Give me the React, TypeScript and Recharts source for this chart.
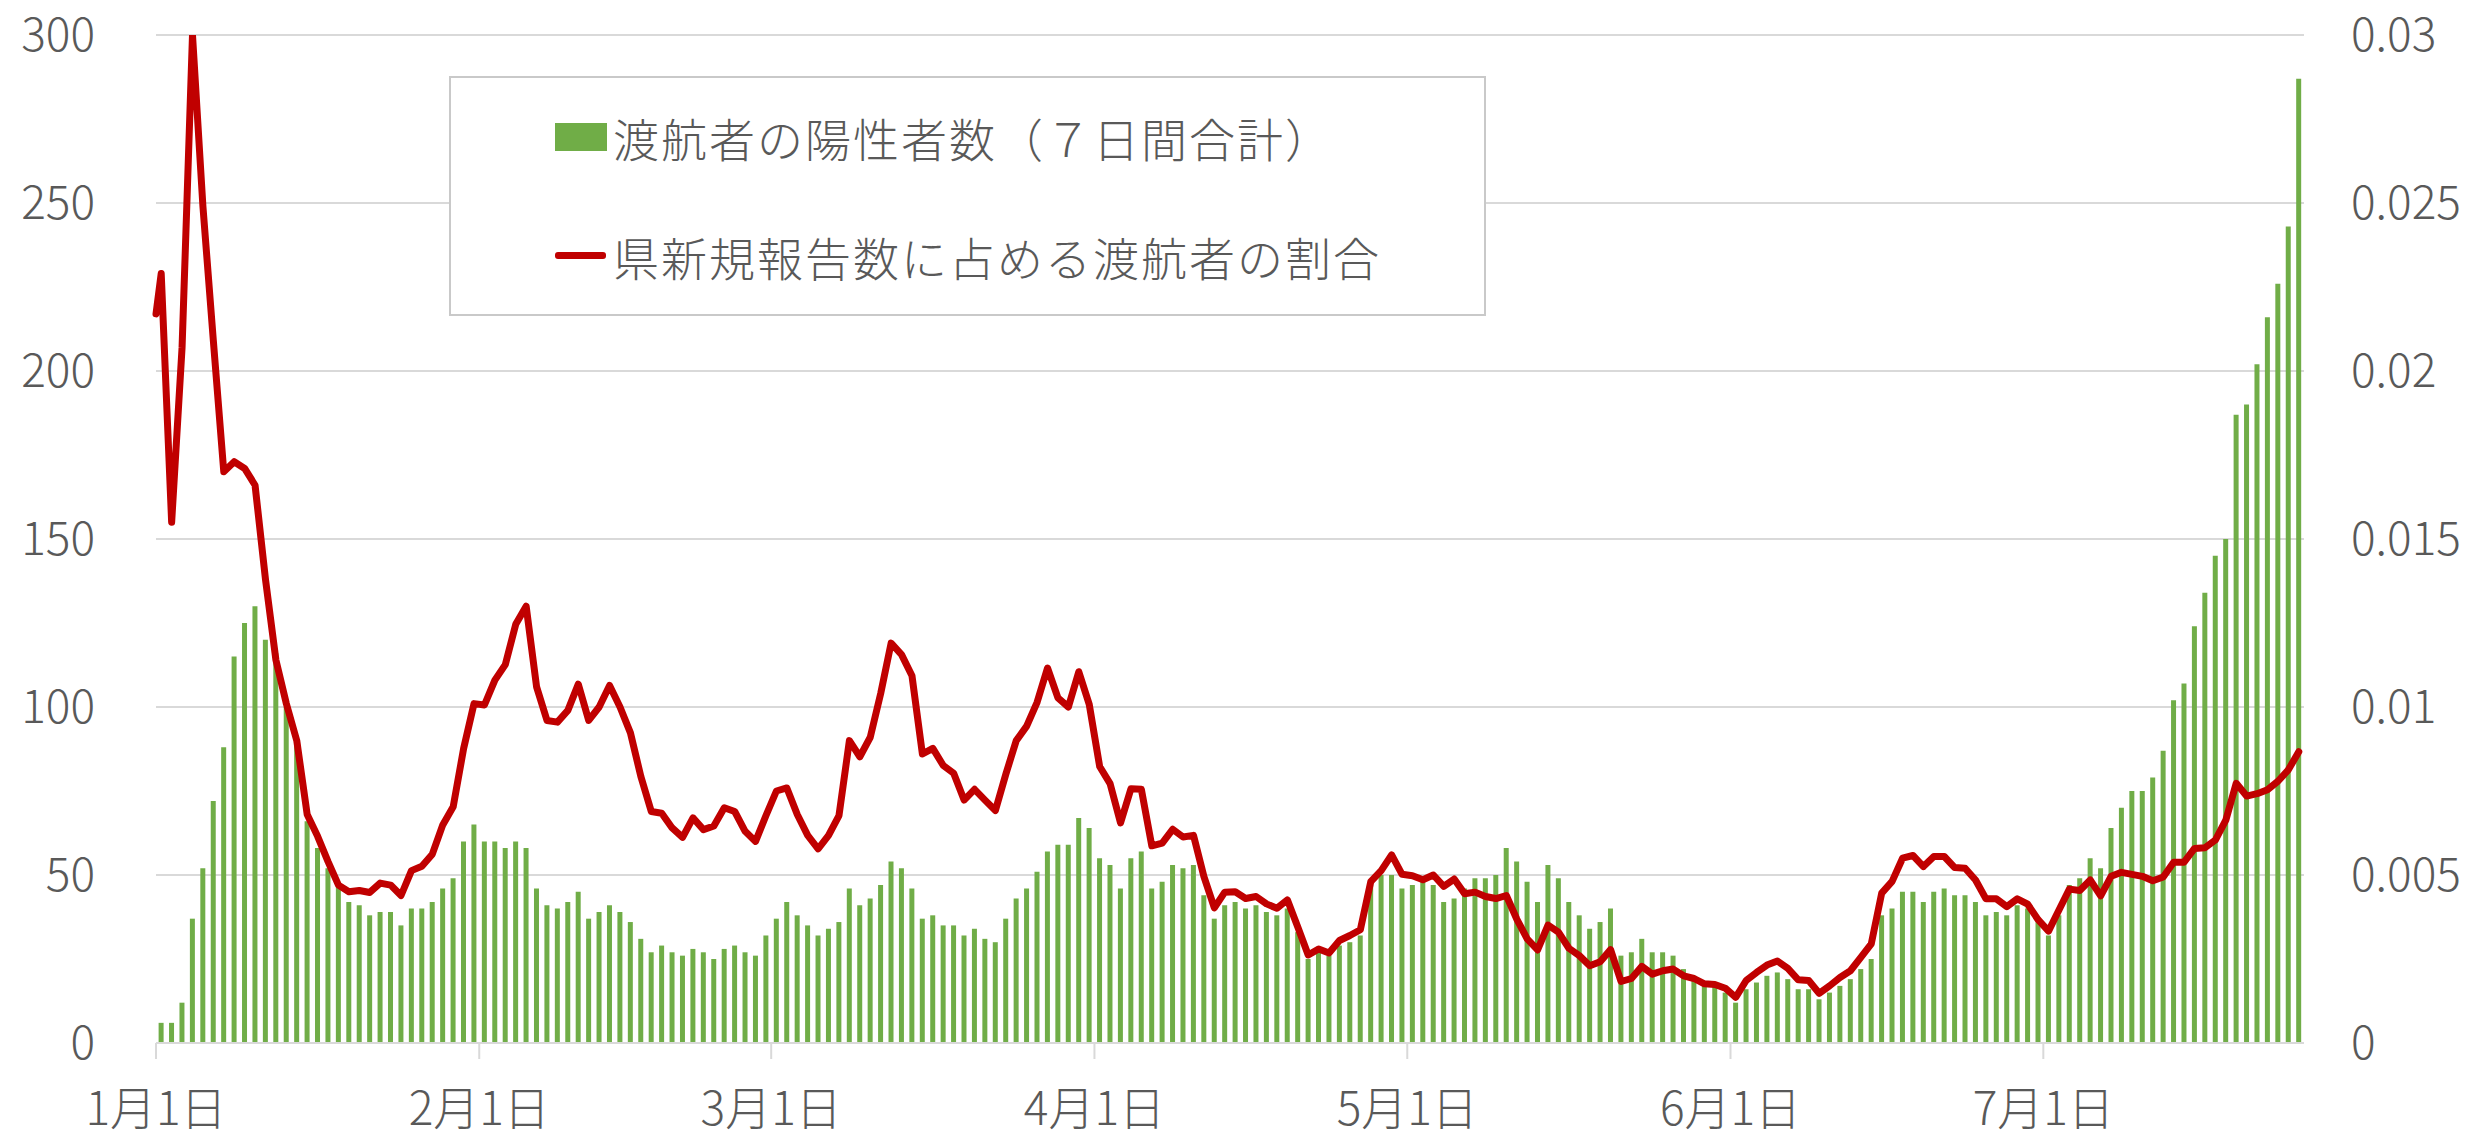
import React from "react";
import { ComposedChart, Bar, Line, XAxis, YAxis, CartesianGrid } from "recharts";

// x axis: month start labels and their day offsets from 1月1日
const monthLabels = ["1月1日", "2月1日", "3月1日", "4月1日", "5月1日", "6月1日", "7月1日"];
const monthStarts = [0, 31, 59, 90, 120, 151, 181];

// 渡航者の陽性者数（７日間合計）, one value per day
const casesJan = [6, 6, 12, 37, 52, 72, 88, 115, 125, 130, 120, 116, 100, 89, 66, 58, 52, 47, 42, 41, 38, 39, 39, 35, 40, 40, 42, 46, 49, 60, 65];
const casesFeb = [60, 60, 58, 60, 58, 46, 41, 40, 42, 45, 37, 39, 41, 39, 36, 31, 27, 29, 27, 26, 28, 27, 25, 28, 29, 27, 26, 32];
const casesMar = [37, 42, 38, 35, 32, 34, 36, 46, 41, 43, 47, 54, 52, 46, 37, 38, 35, 35, 32, 34, 31, 30, 37, 43, 46, 51, 57, 59, 59, 67, 64];
const casesApr = [55, 53, 46, 55, 57, 46, 48, 53, 52, 53, 44, 37, 41, 42, 40, 41, 39, 38, 40, 33, 25, 27, 26, 29, 30, 32, 47, 50, 50, 46];
const casesMay = [47, 48, 47, 42, 43, 46, 49, 49, 50, 58, 54, 48, 42, 53, 49, 42, 38, 34, 36, 40, 26, 27, 31, 27, 27, 26, 22, 20, 18, 17, 15];
const casesJun = [12, 16, 18, 20, 21, 19, 16, 16, 13, 15, 17, 19, 22, 25, 38, 40, 45, 45, 42, 45, 46, 44, 44, 42, 38, 39, 38, 41, 40, 36];
const casesJul = [32, 38, 47, 49, 55, 52, 64, 70, 75, 75, 79, 87, 102, 107, 124, 134, 145, 150, 187, 190, 202, 216, 226, 243, 287];

// 県新規報告数に占める渡航者の割合, one value per day
const ratioLead = 0.0217; // where the line enters at the left edge
const ratioJan = [0.0229, 0.0155, 0.0207, 0.03, 0.0249, 0.0209, 0.017, 0.0173, 0.0171, 0.0166, 0.0138, 0.0114, 0.0101, 0.009, 0.0068, 0.00615, 0.0054, 0.0047, 0.0045, 0.00454, 0.00448, 0.00476, 0.0047, 0.00439, 0.00513, 0.00526, 0.00562, 0.00649, 0.00703, 0.00876, 0.0101];
const ratioFeb = [0.01006, 0.0108, 0.01126, 0.01246, 0.013, 0.0106, 0.0096, 0.00955, 0.0099, 0.01068, 0.0096, 0.01, 0.01064, 0.01, 0.00923, 0.00793, 0.00689, 0.00684, 0.0064, 0.00612, 0.0067, 0.00635, 0.00646, 0.007, 0.00689, 0.0063, 0.006, 0.00677];
const ratioMar = [0.0075, 0.00759, 0.0068, 0.00618, 0.00578, 0.00618, 0.00677, 0.009, 0.00852, 0.0091, 0.0104, 0.0119, 0.01156, 0.01093, 0.0086, 0.00877, 0.00826, 0.00803, 0.00723, 0.00755, 0.00723, 0.00692, 0.008, 0.009, 0.00943, 0.01014, 0.01116, 0.01027, 0.01, 0.01105, 0.01008];
const ratioApr = [0.00823, 0.00772, 0.00655, 0.00757, 0.00755, 0.00587, 0.00595, 0.00636, 0.00613, 0.00618, 0.00495, 0.00402, 0.00449, 0.0045, 0.0043, 0.00436, 0.00414, 0.00401, 0.00426, 0.00345, 0.00262, 0.0028, 0.00268, 0.00305, 0.0032, 0.00337, 0.0048, 0.00513, 0.0056, 0.00502];
const ratioMay = [0.00498, 0.00486, 0.005, 0.00466, 0.00488, 0.00444, 0.00449, 0.00436, 0.0043, 0.00439, 0.00369, 0.0031, 0.00277, 0.00351, 0.0033, 0.00282, 0.0026, 0.0023, 0.00242, 0.00278, 0.00183, 0.00192, 0.00228, 0.00205, 0.00215, 0.0022, 0.002, 0.00192, 0.00176, 0.00174, 0.00163];
const ratioJun = [0.00136, 0.00186, 0.0021, 0.00232, 0.00244, 0.00222, 0.00188, 0.00186, 0.00148, 0.0017, 0.00195, 0.00215, 0.00255, 0.00295, 0.00446, 0.00481, 0.0055, 0.00558, 0.00525, 0.00555, 0.00555, 0.00522, 0.0052, 0.00485, 0.00429, 0.00429, 0.00406, 0.00429, 0.00413, 0.00367];
const ratioJul = [0.00333, 0.00396, 0.00458, 0.00454, 0.00485, 0.00438, 0.00496, 0.00508, 0.00502, 0.00496, 0.00483, 0.00494, 0.00538, 0.00538, 0.00579, 0.00581, 0.00604, 0.00663, 0.00773, 0.00735, 0.00742, 0.00754, 0.00779, 0.00813, 0.00867];

const leftTicks = [0, 50, 100, 150, 200, 250, 300];
const rightTicks = [0, 0.005, 0.01, 0.015, 0.02, 0.025, 0.03];

const cases = [...casesJan, ...casesFeb, ...casesMar, ...casesApr, ...casesMay, ...casesJun, ...casesJul];
const ratio = [...ratioJan, ...ratioFeb, ...ratioMar, ...ratioApr, ...ratioMay, ...ratioJun, ...ratioJul];

const lastDay = cases.length - 1;
const chartData = [
  { day: -0.5, ratio: ratioLead },
  ...cases.map((c, i) => ({ day: i, cases: c, ratio: ratio[i] })),
];

const FONT = '"Noto Sans CJK JP", "Noto Sans", sans-serif';
const TEXT = "#595959";
const GRID = "#D9D9D9";
const tickStyle = { fill: TEXT, fontSize: 46, fontFamily: FONT, fontWeight: 300 };

function ChartLegend() {
  return (
    <div
      style={{
        position: "absolute",
        left: 449,
        top: 76,
        width: 1033,
        height: 236,
        background: "#fff",
        border: "2px solid #C9C9C9",
        fontFamily: FONT,
        fontWeight: 300,
        fontSize: 46,
        color: TEXT,
        letterSpacing: 2,
      }}
    >
      <div style={{ position: "absolute", left: 104, top: 45, width: 52, height: 28, background: "#70AD47" }} />
      <div style={{ position: "absolute", left: 162, top: 29, lineHeight: "60px", whiteSpace: "nowrap" }}>
        渡航者の陽性者数（７日間合計）
      </div>
      <div style={{ position: "absolute", left: 104, top: 174, width: 51, height: 7, borderRadius: 3, background: "#C00000" }} />
      <div style={{ position: "absolute", left: 162, top: 148, lineHeight: "60px", whiteSpace: "nowrap" }}>
        県新規報告数に占める渡航者の割合
      </div>
    </div>
  );
}

export default function App() {
  return (
    <div style={{ position: "absolute", left: 0, top: 0, width: 2486, height: 1140, background: "#fff" }}>
      <ComposedChart
        width={2486}
        height={1140}
        data={chartData}
        margin={{ top: 35, right: 0, bottom: 0, left: 0 }}
      >
        <CartesianGrid yAxisId="left" vertical={false} stroke={GRID} strokeWidth={2} />
        <XAxis
          type="number"
          dataKey="day"
          domain={[-0.5, lastDay + 0.5]}
          ticks={monthStarts.map((d) => d - 0.5)}
          interval={0}
          tickFormatter={(_v: number, i: number) => monthLabels[i]}
          height={97}
          axisLine={{ stroke: GRID, strokeWidth: 2 }}
          tickLine={{ stroke: GRID, strokeWidth: 2 }}
          tickSize={16}
          tickMargin={33}
          tick={tickStyle}
        />
        <YAxis
          yAxisId="left"
          orientation="left"
          width={156}
          domain={[0, 300]}
          ticks={leftTicks}
          axisLine={false}
          tickLine={false}
          tickSize={0}
          tickMargin={61}
          tick={tickStyle}
        />
        <YAxis
          yAxisId="right"
          orientation="right"
          width={182}
          domain={[0, 0.03]}
          ticks={rightTicks}
          allowDataOverflow
          axisLine={false}
          tickLine={false}
          tickSize={0}
          tickMargin={47}
          tick={{ ...tickStyle, textAnchor: "start" }}
        />
        <Bar
          yAxisId="left"
          dataKey="cases"
          fill="#70AD47"
          barSize={5}
          isAnimationActive={false}
        />
        <Line
          yAxisId="right"
          type="linear"
          dataKey="ratio"
          stroke="#C00000"
          strokeWidth={7}
          strokeLinejoin="round"
          strokeLinecap="round"
          dot={false}
          activeDot={false}
          isAnimationActive={false}
        />
      </ComposedChart>
      <ChartLegend />
    </div>
  );
}
